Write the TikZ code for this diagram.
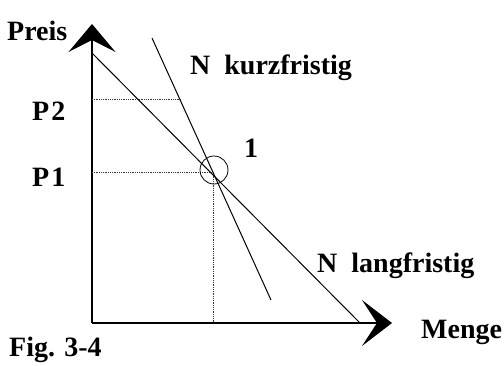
\documentclass[tikz,border=0pt]{standalone}
\usepackage{fontspec}
\setmainfont{Liberation Serif}
\usetikzlibrary{arrows.meta}
\tikzset{
    lbl/.style={font=\fontsize{28}{28}\selectfont\bfseries, inner sep=0pt, anchor=base west},
    axis/.style={line width=1.2pt},
    curve/.style={line width=1pt},
    guide/.style={line width=0.8pt, densely dotted, black!80}
}
\begin{document}
\begin{tikzpicture}[x=1pt, y=-1pt]
        \useasboundingbox (0,0) rectangle (504,365);
        % axes
        \coordinate (O) at (92,323);
        \coordinate (ytip) at (92,24);
        \coordinate (xtip) at (392,323);
        \draw[axis, -{Stealth[length=28pt,width=47pt,inset=12pt]}] (O) -- (ytip);
        \draw[axis, -{Stealth[length=30pt,width=46pt,inset=15pt]}] (O) -- (xtip);
        % demand curves
        \coordinate (lA) at (92,53);
        \coordinate (lB) at (360,323);
        \coordinate (kA) at (152,38);
        \coordinate (kB) at (271,300);
        \draw[curve] (lA) -- (lB);
        \draw[curve] (kA) -- (kB);
        % price levels
        \draw[guide] (92,99) -- (182,99);
        \draw[guide] (92,172) -- (213,172);
        \draw[guide] (213,172) -- (213,323);
        \draw[line width=0.8pt] (214,170) circle (14);
        % labels
        \node[lbl] (preis) at (7,40) {Preis};
        \node[lbl] (p2) at (32,120) {P\kern2pt2};
        \node[lbl] (p1) at (32,186) {P\kern2pt1};
        \node[lbl] (kurz) at (190,74) {N\hspace{0.5em}kurzfristig};
        \node[lbl] (eins) at (244,157) {1};
        \node[lbl] (lang) at (317,272) {N\hspace{0.5em}langfristig};
        \node[lbl] (menge) at (421,338) {Menge};
        \node[lbl] (fig) at (9,356) {Fig. 3-4};
    \end{tikzpicture}
\end{document}
